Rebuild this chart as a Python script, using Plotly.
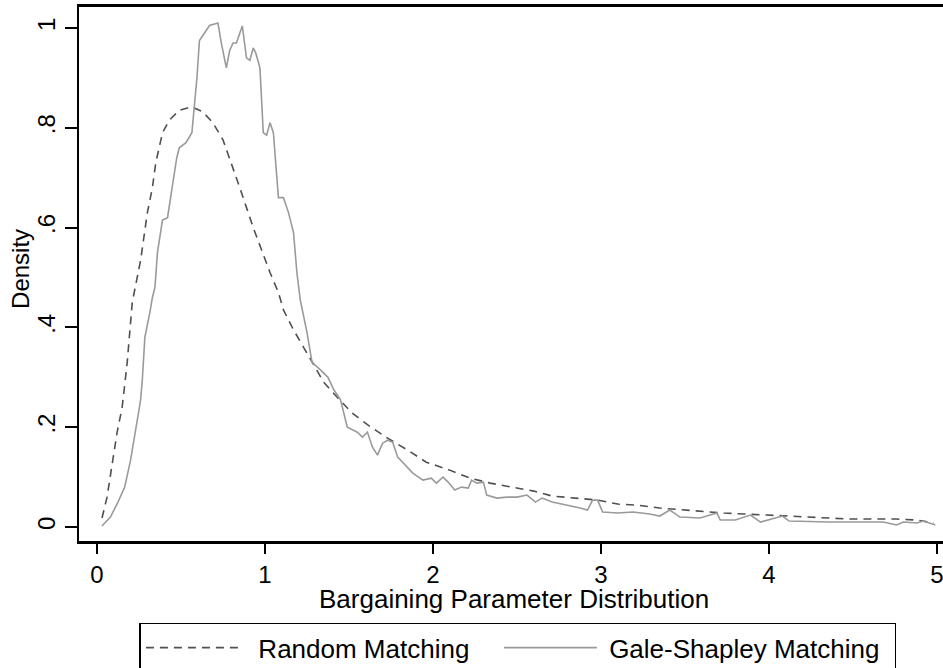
import plotly.graph_objects as go

# Random Matching (dashed) density
rand_x = [0.03, 0.06, 0.12, 0.15, 0.18, 0.21, 0.26, 0.30, 0.33, 0.35, 0.39, 0.43, 0.49, 0.565,
          0.63, 0.69, 0.75, 0.81, 0.85, 0.89, 0.93, 0.98, 1.03, 1.08, 1.11, 1.17, 1.23, 1.28,
          1.35, 1.43, 1.52, 1.61, 1.73, 1.85, 1.96, 2.10, 2.22, 2.34, 2.48, 2.60, 2.71, 2.83,
          2.98, 3.10, 3.21, 3.35, 3.49, 3.59, 3.73, 3.99, 4.23, 4.48, 4.76, 4.88, 4.98]
rand_y = [0.018, 0.06, 0.19, 0.24, 0.33, 0.45, 0.535, 0.63, 0.68, 0.73, 0.79, 0.815, 0.835, 0.842,
          0.832, 0.81, 0.776, 0.72, 0.68, 0.64, 0.60, 0.555, 0.51, 0.47, 0.435, 0.395, 0.36, 0.33,
          0.29, 0.26, 0.228, 0.205, 0.178, 0.154, 0.13, 0.114, 0.098, 0.088, 0.08, 0.072, 0.062, 0.058,
          0.054, 0.046, 0.044, 0.038, 0.034, 0.032, 0.028, 0.024, 0.02, 0.016, 0.016, 0.014, 0.008]

# Gale-Shapley Matching (solid) density
gs_x = [0.03, 0.08, 0.125, 0.165, 0.20, 0.23, 0.26, 0.27, 0.285, 0.315, 0.33, 0.345, 0.36, 0.39,
        0.42, 0.445, 0.475, 0.49, 0.53, 0.565, 0.585, 0.595, 0.61, 0.63, 0.67, 0.72, 0.74, 0.77,
        0.79, 0.81, 0.83, 0.865, 0.89, 0.91, 0.93, 0.945, 0.97, 0.99, 1.01, 1.03, 1.05, 1.08,
        1.11, 1.14, 1.17, 1.19, 1.21, 1.25, 1.28, 1.33, 1.375, 1.41, 1.45, 1.465, 1.49, 1.55,
        1.58, 1.61, 1.64, 1.67, 1.70, 1.73, 1.76, 1.79, 1.85, 1.88, 1.94, 1.99, 2.02, 2.06,
        2.09, 2.13, 2.17, 2.21, 2.23, 2.26, 2.30, 2.32, 2.38, 2.44, 2.50, 2.56, 2.61, 2.65,
        2.71, 2.80, 2.875, 2.92, 2.95, 2.98, 3.01, 3.10, 3.19, 3.29, 3.35, 3.41, 3.47, 3.59,
        3.69, 3.71, 3.80, 3.89, 3.95, 4.08, 4.12, 4.36, 4.68, 4.76, 4.80, 4.88, 4.92, 4.99]
gs_y = [0.002, 0.02, 0.05, 0.08, 0.134, 0.194, 0.255, 0.295, 0.38, 0.43, 0.46, 0.48, 0.55, 0.615,
        0.62, 0.675, 0.74, 0.76, 0.77, 0.79, 0.855, 0.90, 0.975, 0.985, 1.005, 1.01, 0.97, 0.92,
        0.955, 0.97, 0.97, 1.004, 0.94, 0.935, 0.96, 0.95, 0.92, 0.79, 0.785, 0.81, 0.79, 0.66,
        0.66, 0.63, 0.59, 0.51, 0.455, 0.39, 0.33, 0.315, 0.30, 0.275, 0.255, 0.234, 0.20, 0.19,
        0.18, 0.19, 0.16, 0.144, 0.168, 0.174, 0.17, 0.14, 0.12, 0.108, 0.094, 0.098, 0.088, 0.10,
        0.09, 0.074, 0.08, 0.078, 0.094, 0.088, 0.09, 0.064, 0.058, 0.06, 0.06, 0.064, 0.05, 0.058,
        0.05, 0.044, 0.038, 0.034, 0.054, 0.054, 0.03, 0.028, 0.03, 0.026, 0.022, 0.034, 0.02, 0.018,
        0.028, 0.014, 0.014, 0.024, 0.01, 0.022, 0.012, 0.01, 0.01, 0.004, 0.01, 0.008, 0.012, 0.004]

x_ticks = [0, 1, 2, 3, 4, 5]
x_tick_labels = ["0", "1", "2", "3", "4", "5"]
y_ticks = [0, 0.2, 0.4, 0.6, 0.8, 1.0]
y_tick_labels = ["0", ".2", ".4", ".6", ".8", "1"]

FONT = "Arial, Liberation Sans, sans-serif"
NB = "\u00a0"

fig = go.Figure()
fig.add_trace(go.Scatter(x=rand_x, y=rand_y, mode="lines", name=NB * 2 + "Random Matching",
                         legendwidth=250,
                         line=dict(color="#505050", width=1.6, dash="8px,6px")))
fig.add_trace(go.Scatter(x=gs_x, y=gs_y, mode="lines", name=NB + "Gale-Shapley Matching",
                         legendwidth=288,
                         line=dict(color="#9a9a9a", width=1.6, shape="linear")))

fig.update_layout(
    width=943, height=668,
    margin=dict(l=79, r=0, t=7, b=127, autoexpand=False),
    paper_bgcolor="white", plot_bgcolor="white",
    font=dict(family=FONT, size=25, color="black"),
    showlegend=True,
    legend=dict(orientation="h", xanchor="center", x=0.508, yanchor="top", y=-0.153,
                bordercolor="black", borderwidth=1.5, bgcolor="white",
                itemwidth=93, font=dict(size=26), entrywidthmode="pixels"),
    xaxis=dict(range=[-0.107, 5.036], tickvals=x_ticks, ticktext=x_tick_labels,
               showgrid=False, zeroline=False, showline=True, linecolor="black",
               linewidth=2.5, mirror=True, ticks="outside", ticklen=10, tickwidth=2,
               tickcolor="black", ticklabelstandoff=0, ticklabeloverflow="allow",
               tickfont=dict(size=24)),
    yaxis=dict(range=[-0.028, 1.042], tickvals=y_ticks, ticktext=y_tick_labels,
               showgrid=False, zeroline=False, showline=True, linecolor="black",
               linewidth=2, ticks="outside", ticklen=12, tickwidth=2, tickcolor="black",
               tickangle=-90, ticklabelstandoff=0, ticklabeloverflow="allow",
               tickfont=dict(size=24)),
    annotations=[
        dict(text="Bargaining Parameter Distribution", xref="paper", yref="paper",
             x=0.504, y=-0.1087, xanchor="center", yanchor="middle", showarrow=False,
             font=dict(size=26)),
        dict(text="Density", xref="paper", yref="paper", x=-0.068, y=0.51,
             xanchor="center", yanchor="middle", textangle=-90, showarrow=False,
             font=dict(size=24)),
    ],
)

fig.write_html("out.html")
